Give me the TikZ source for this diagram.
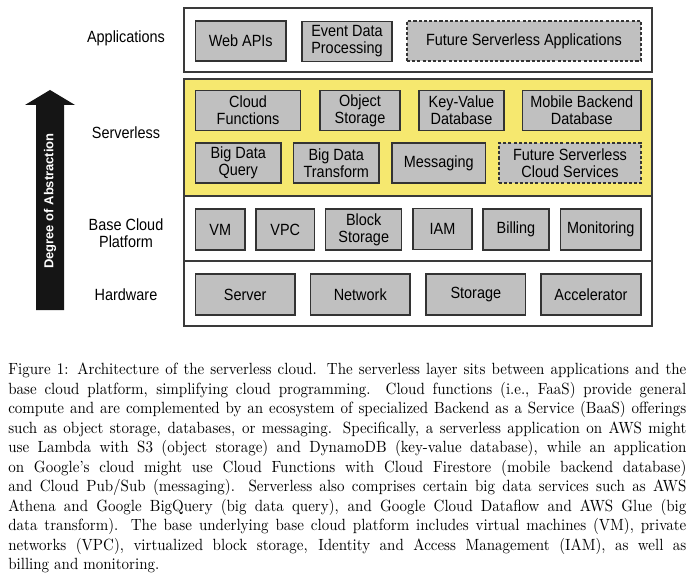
\documentclass[tikz,border=0pt]{standalone}
\usepackage{graphicx}
\usepackage{fontspec}
\newfontfamily\diagfont{Liberation Sans}[FakeStretch=0.89]
\newfontfamily\arrowfont{Liberation Sans}
\newcommand\pxu{0.6163pt}
\definecolor{layeryellow}{HTML}{F6E86F}
\definecolor{boxgray}{HTML}{C0C0C0}
\definecolor{boxline}{HTML}{333333}
\definecolor{frameline}{HTML}{3A3A3A}
\definecolor{arrowblack}{HTML}{151515}
\begin{document}
\begin{tikzpicture}[x=0.6163pt,y=-0.6163pt,
  layer/.style={draw=frameline,line width=0.85pt},
  gbox/.style={draw=boxline,fill=boxgray,line width=0.85pt,inner sep=0pt,
    align=center,font=\diagfont\fontsize{10}{10.5}\selectfont},
  dbox/.style={gbox,dash pattern=on 1.9pt off 1.3pt},
  lab/.style={inner sep=0pt,align=center,font=\diagfont\fontsize{10}{10.5}\selectfont}]
\useasboundingbox (0,0) rectangle (698,588);
% layers
\draw[layer,fill=white] (184,8) rectangle (652,72);
\draw[layer,fill=layeryellow] (184,79) rectangle (652,196);
\draw[layer,fill=white] (184,196) rectangle (652,261);
\draw[layer,fill=white] (184,261) rectangle (652,326);
% layer labels
\node[lab] (lapp) at (126,38) {Applications};
\node[lab] (lsrv) at (126,133) {Serverless};
\node[lab] (lbase) at (126,233) {Base Cloud\\Platform};
\node[lab] (lhw) at (126,295) {Hardware};
% applications
\node[gbox,minimum width=90.5*\pxu,minimum height=40*\pxu] (webapi) at (240.75,41) {Web APIs};
\node[gbox,minimum width=90*\pxu,minimum height=40*\pxu] (event) at (347,41.5) {Event Data\\Processing};
\node[dbox,minimum width=234*\pxu,minimum height=40*\pxu] (futapp) at (524,41) {Future Serverless Applications};
% serverless row 1
\node[gbox,minimum width=105*\pxu,minimum height=39.5*\pxu] (cfun) at (248,110.5) {Cloud\\Functions};
\node[gbox,minimum width=80*\pxu,minimum height=39.5*\pxu] (objst) at (360,110.5) {Object\\Storage};
\node[gbox,minimum width=85*\pxu,minimum height=39.5*\pxu] (kvdb) at (461.5,110.5) {Key-Value\\Database};
\node[gbox,minimum width=118.5*\pxu,minimum height=39.5*\pxu] (mbdb) at (581.75,110.5) {Mobile Backend\\Database};
% serverless row 2
\node[gbox,minimum width=85.5*\pxu,minimum height=40*\pxu] (bdq) at (238.25,163) {Big Data\\Query};
\node[gbox,minimum width=85.5*\pxu,minimum height=40*\pxu] (bdt) at (336.25,163) {Big Data\\Transform};
\node[gbox,minimum width=93.5*\pxu,minimum height=40*\pxu] (msg) at (438.75,163) {Messaging};
\node[dbox,minimum width=142*\pxu,minimum height=40*\pxu] (futcs) at (570,163) {Future Serverless\\Cloud Services};
% base cloud platform
\node[gbox,minimum width=49.5*\pxu,minimum height=41*\pxu] (vm) at (220.25,229.5) {VM};
\node[gbox,minimum width=58.5*\pxu,minimum height=41*\pxu] (vpc) at (285.25,229.5) {VPC};
\node[gbox,minimum width=76*\pxu,minimum height=41*\pxu] (blk) at (363.75,229.5) {Block\\Storage};
\node[gbox,minimum width=59*\pxu,minimum height=41*\pxu] (iam) at (442.5,229) {IAM};
\node[gbox,minimum width=66*\pxu,minimum height=41*\pxu] (bill) at (516,229.5) {Billing};
\node[gbox,minimum width=80.4*\pxu,minimum height=41*\pxu] (mon) at (600.8,229.5) {Monitoring};
% hardware
\node[gbox,minimum width=99.5*\pxu,minimum height=41*\pxu] (srv) at (245.25,294.5) {Server};
\node[gbox,minimum width=99.5*\pxu,minimum height=41*\pxu] (net) at (360.25,294.5) {Network};
\node[gbox,minimum width=99.7*\pxu,minimum height=41*\pxu] (sto) at (475.85,294.5) {Storage};
\node[gbox,minimum width=100*\pxu,minimum height=41*\pxu] (acc) at (591,294.5) {Accelerator};
% abstraction arrow
\fill[arrowblack] (36,310) -- (36,105) -- (25,105) -- (50,90) -- (75,105) -- (64,105) -- (64,310) -- cycle;
\node[rotate=90,text=white,inner sep=0pt,font=\arrowfont\bfseries\fontsize{8}{9.6}\selectfont] (abs) at (50,201) {Degree of Abstraction};
% caption
\node[anchor=north west,inner sep=0pt] (cap) at (8,363) {\scalebox{0.9245}[1]{%
\parbox{452pt}{\fontsize{10}{12}\selectfont\parindent=0pt
Figure 1: Architecture of the serverless cloud. The serverless layer sits between applications and the\linebreak
base cloud platform, simplifying cloud programming. Cloud functions (i.e., FaaS) provide general\linebreak
compute and are complemented by an ecosystem of specialized Backend as a Service (BaaS) offerings\linebreak
such as object storage, databases, or messaging. Specifically, a serverless application on AWS might\linebreak
use Lambda with S3 (object storage) and DynamoDB (key-value database), while an application\linebreak
on Google's cloud might use Cloud Functions with Cloud Firestore (mobile backend database)\linebreak
and Cloud Pub/Sub (messaging). Serverless also comprises certain big data services such as AWS\linebreak
Athena and Google BigQuery (big data query), and Google Cloud Dataflow and AWS Glue (big\linebreak
data transform). The base underlying base cloud platform includes virtual machines (VM), private\linebreak
networks (VPC), virtualized block storage, Identity and Access Management (IAM), as well as\linebreak
billing and monitoring.}}};
\end{tikzpicture}
\end{document}
